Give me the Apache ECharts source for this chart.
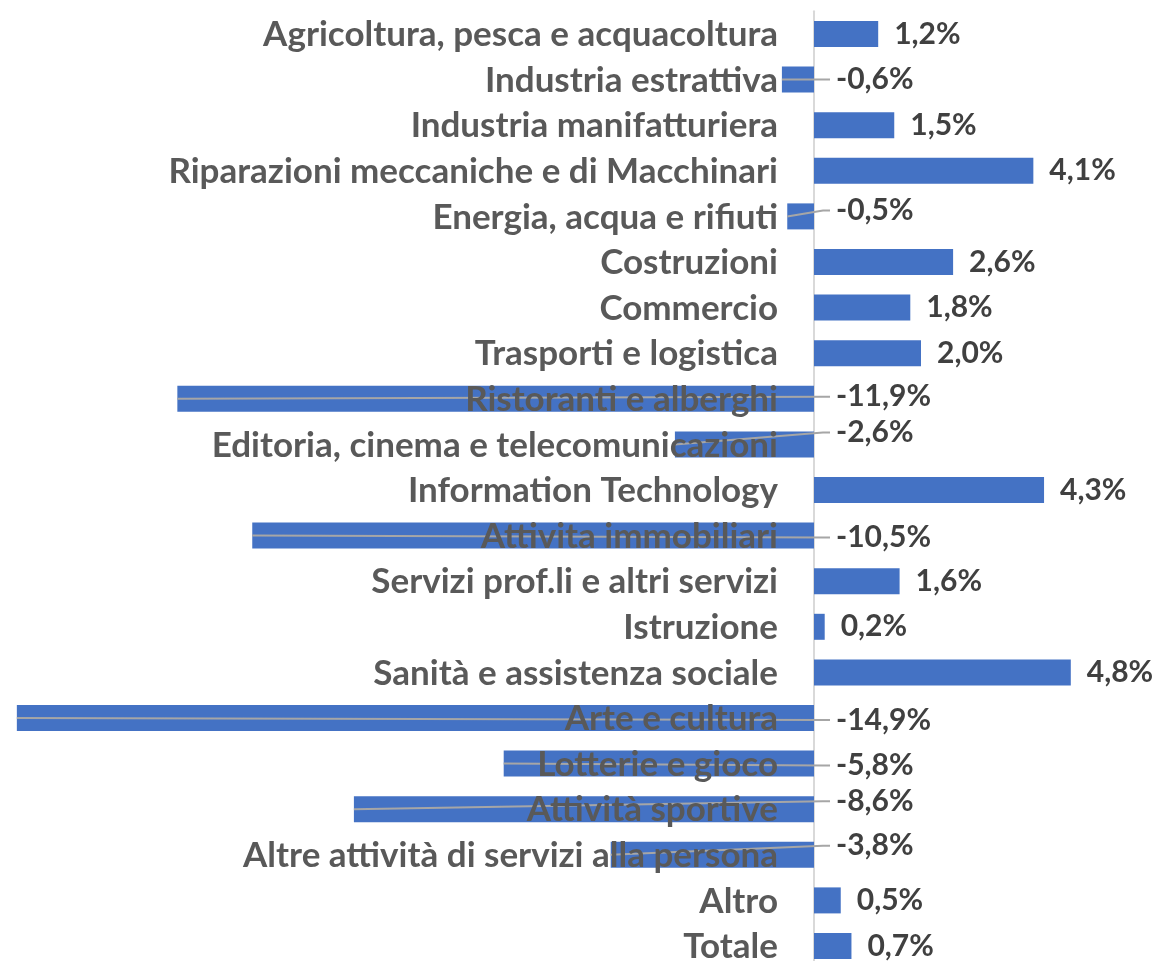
<!DOCTYPE html>
<html>
<head>
<meta charset="utf-8">
<script src="https://cdn.jsdelivr.net/npm/echarts@6/dist/echarts.min.js"></script>
<style>
html,body{margin:0;padding:0;background:#fff;overflow:hidden;}
#chart{width:1154px;height:980px;}
</style>
</head>
<body>
<div id="chart"></div>
<script>
const categories = [
  'Agricoltura, pesca e acquacoltura',
  'Industria estrattiva',
  'Industria manifatturiera',
  'Riparazioni meccaniche e di Macchinari',
  'Energia, acqua e rifiuti',
  'Costruzioni',
  'Commercio',
  'Trasporti e logistica',
  'Ristoranti e alberghi',
  'Editoria, cinema e telecomunicazioni',
  'Information Technology',
  'Attivita immobiliari',
  'Servizi prof.li e altri servizi',
  'Istruzione',
  'Sanità e assistenza sociale',
  'Arte e cultura',
  'Lotterie e gioco',
  'Attività sportive',
  'Altre attività di servizi alla persona',
  'Altro',
  'Totale'
];
const values = [1.2, -0.6, 1.5, 4.1, -0.5, 2.6, 1.8, 2.0, -11.9, -2.6, 4.3, -10.5, 1.6, 0.2, 4.8, -14.9, -5.8, -8.6, -3.8, 0.5, 0.7];

// styling: vertical nudge (px) of the moved labels of negative bars, as in the reference
const labelLift = {1: 0, 4: -6, 8: -2, 9: -12, 11: 2, 15: 2, 16: 2, 17: -8, 18: -9};

const fmt = v => v.toFixed(1).replace('.', ',') + '%';
const FONT = 'Lato';

const barData = values.map(v => ({ value: v, label: { show: v >= 0 } }));
const negData = [];
values.forEach((v, i) => { if (v < 0) negData.push([v, i]); });
const catData = categories.map((c, i) => [0, i]);

const chart = echarts.init(document.getElementById('chart'));
chart.setOption({
  animation: false,
  grid: { left: 11.5, right: 19, top: 11.2, bottom: 11.2, containLabel: false },
  xAxis: {
    type: 'value', min: -15, max: 6,
    axisLine: { show: false }, axisTick: { show: false },
    axisLabel: { show: false }, splitLine: { show: false }
  },
  yAxis: {
    type: 'category', inverse: true, data: categories,
    axisLine: { show: true, onZero: true, lineStyle: { color: '#D9D9D9', width: 2 } },
    axisTick: { show: false },
    axisLabel: { show: false }
  },
  series: [
    {
      type: 'bar', data: barData, barWidth: 26, z: 2,
      itemStyle: { color: '#4472C4' },
      label: {
        position: 'right', distance: 16, formatter: p => fmt(p.value),
        color: '#404040', fontFamily: FONT, fontWeight: 'bold', fontSize: 30
      }
    },
    {
      type: 'custom', z: 4, data: negData,
      encode: { x: 0, y: 1 },
      renderItem: function (params, api) {
        const v = api.value(0), idx = api.value(1);
        const p0 = api.coord([0, idx]);
        const pe = api.coord([v, idx]);
        const ly = p0[1] + (labelLift[idx] || 0);
        const lx = p0[0] + 22;
        return {
          type: 'group',
          children: [
            {
              type: 'polyline',
              shape: { points: [[lx - 6, ly], [p0[0] + 9, ly], [pe[0], p0[1]]] },
              style: { stroke: '#A6A6A6', lineWidth: 2, fill: null }
            },
            {
              type: 'text',
              style: {
                text: fmt(v), x: lx, y: ly,
                textAlign: 'left', textVerticalAlign: 'middle',
                align: 'left', verticalAlign: 'middle',
                fill: '#404040', font: 'bold 30px ' + FONT
              }
            }
          ]
        };
      }
    },
    {
      type: 'custom', z: 5, data: catData,
      encode: { x: 0, y: 1 },
      renderItem: function (params, api) {
        const idx = api.value(1);
        const p0 = api.coord([0, idx]);
        return {
          type: 'text',
          style: {
            text: categories[idx], x: p0[0] - 36, y: p0[1] + 1,
            textAlign: 'right', textVerticalAlign: 'middle',
            align: 'right', verticalAlign: 'middle',
            fill: '#595959', font: 'bold 35px ' + FONT
          }
        };
      }
    }
  ]
});
</script>
</body>
</html>
